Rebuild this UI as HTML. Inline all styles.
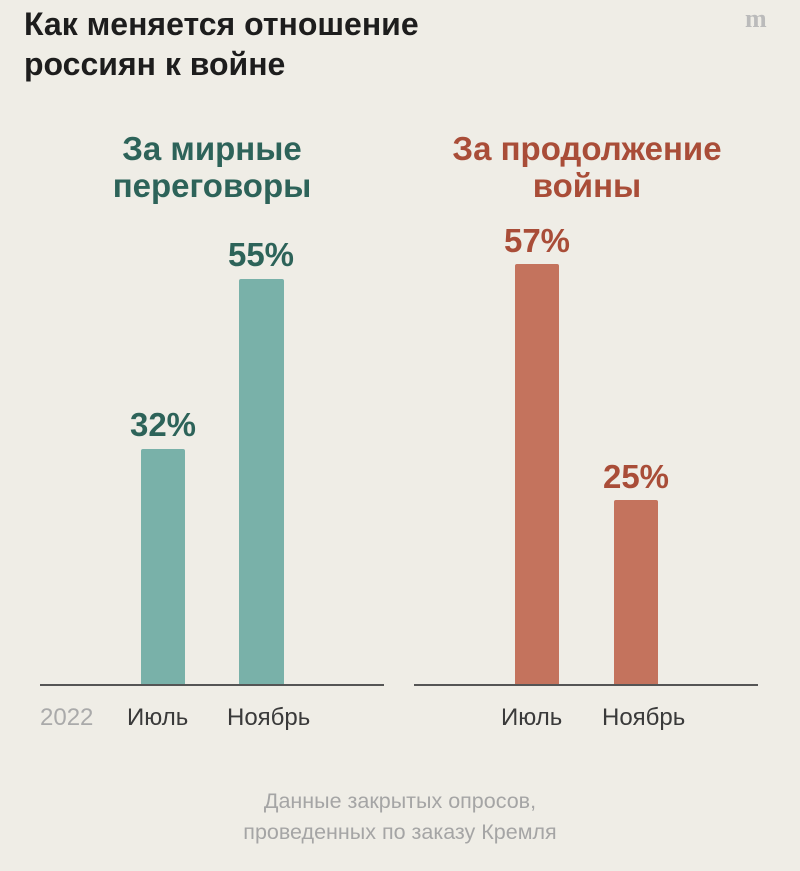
<!DOCTYPE html>
<html><head><meta charset="utf-8"><style>
body{margin:0;width:800px;height:871px;background:#efede6;position:relative;overflow:hidden;font-family:"Liberation Sans","DejaVu Sans",sans-serif}
.a{position:absolute}
.t{left:24px;top:4px;font-size:32px;font-weight:bold;color:#1d1d1d;line-height:40px}
.h{font-size:33px;font-weight:bold;line-height:37px;text-align:center;width:380px}
.g{color:#2d6359}.r{color:#a94d38}
.bg{background:#79b1a9;border-radius:2px 2px 0 0}
.br{background:#c4735d;border-radius:2px 2px 0 0}
.p{font-size:33px;font-weight:bold;text-align:center;width:120px}
.l{font-size:24px;color:#3a3a3a;top:704px}
.line{height:1.5px;background:#555;top:684px}
</style></head><body>
<div class="a t">Как меняется отношение<br>россиян к войне</div>
<div class="a" style="left:745px;top:4px;font-family:'Liberation Serif',serif;font-size:26px;font-weight:bold;color:#bbb">m</div>
<div class="a h g" style="left:22px;top:130px">За мирные<br>переговоры</div>
<div class="a h r" style="left:397px;top:130px">За продолжение<br>войны</div>
<div class="a p g" style="left:103px;top:406px">32%</div>
<div class="a p g" style="left:201px;top:236px">55%</div>
<div class="a p r" style="left:477px;top:222px">57%</div>
<div class="a p r" style="left:576px;top:458px">25%</div>
<div class="a bg" style="left:141px;top:449px;width:44px;height:236px"></div>
<div class="a bg" style="left:239px;top:279px;width:45px;height:406px"></div>
<div class="a br" style="left:515px;top:264px;width:44px;height:421px"></div>
<div class="a br" style="left:614px;top:500px;width:44px;height:185px"></div>
<div class="a line" style="left:40px;width:344px"></div>
<div class="a line" style="left:414px;width:344px"></div>
<div class="a l" style="left:40px;color:#aaa">2022</div>
<div class="a l" style="left:127px">Июль</div>
<div class="a l" style="left:227px">Ноябрь</div>
<div class="a l" style="left:501px">Июль</div>
<div class="a l" style="left:602px">Ноябрь</div>
<div class="a" style="left:0;width:800px;top:786px;text-align:center;font-size:21.5px;line-height:31px;color:#a5a5a5">Данные закрытых опросов,<br>проведенных по заказу Кремля</div>
</body></html>
